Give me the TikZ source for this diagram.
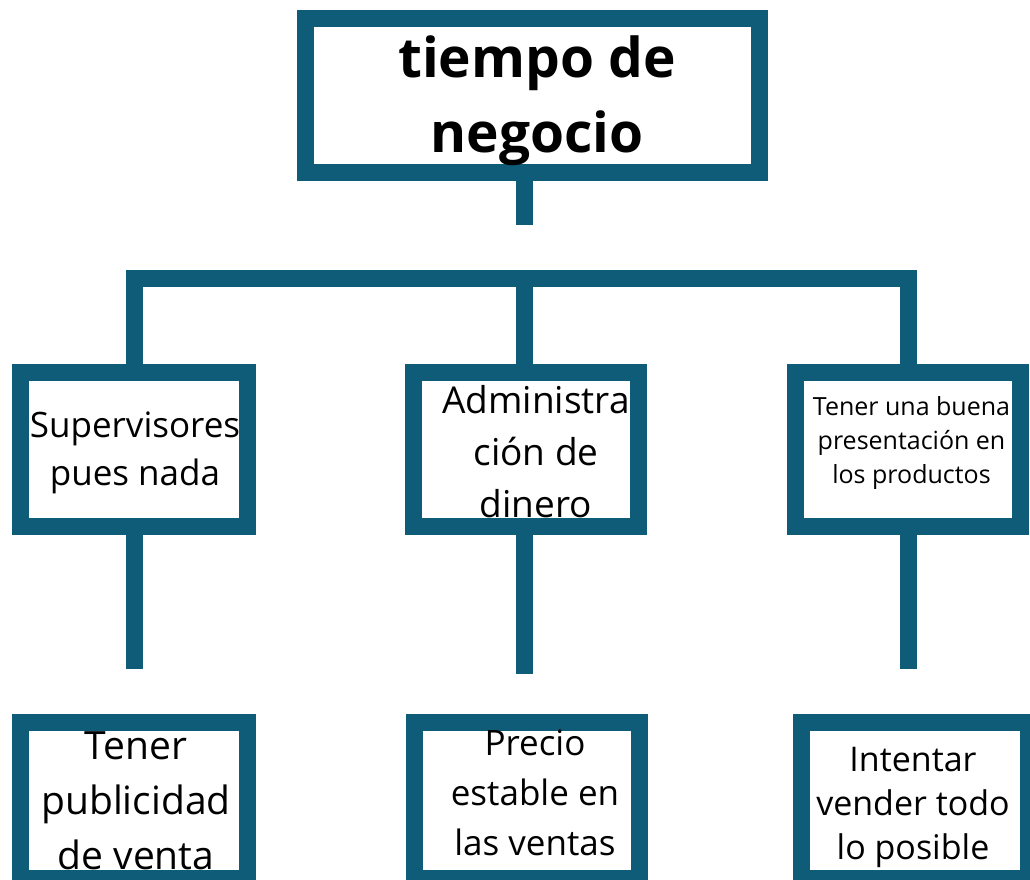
\documentclass[tikz,border=0pt]{standalone}
\usepackage{fontspec}
\setmainfont{Open Sans}
\definecolor{teal1}{RGB}{14,92,120}
\begin{document}
\begin{tikzpicture}[x=1pt,y=-1pt,
  box/.style={draw=teal1,line width=17pt,rectangle,inner sep=0pt,fill=white},
  link/.style={draw=teal1,line width=17pt},
  txt/.style={align=center,inner sep=0pt,text=black}]
\clip (0,0) rectangle (1030,879);
\fill[white] (0,0) rectangle (1030,879);
% boxes
\node[box,minimum width=454pt,minimum height=154pt] (top) at (532,95) {};
\node[box,minimum width=227.5pt,minimum height=154pt] (m1) at (134,449) {};
\node[box,minimum width=225pt,minimum height=154pt] (m2) at (526,449) {};
\node[box,minimum width=225.5pt,minimum height=154pt] (m3) at (908,449) {};
\node[box,minimum width=226.5pt,minimum height=156pt] (b1) at (134,800.5) {};
\node[box,minimum width=225.5pt,minimum height=156pt] (b2) at (527,800.5) {};
\node[box,minimum width=227.5pt,minimum height=156pt] (b3) at (915,800.5) {};
% connectors
\coordinate (stem) at (524,225);
\coordinate (bar) at (524,278);
\coordinate (e1) at (134,669);
\coordinate (e2) at (524,674);
\coordinate (e3) at (908,669);
\draw[link] (top.south -| stem) -- (stem);
\draw[link] (m1.north) |- (m3.north |- bar) -- (m3.north);
\draw[link] (bar) -- (m2.north -| bar);
\draw[link] (m1.south) -- (e1);
\draw[link] (m2.south -| e2) -- (e2);
\draw[link] (m3.south) -- (e3);
% texts
\node[txt,font=\bfseries\fontsize{55}{75}\selectfont] (ttop) at (537,101) {tiempo de\\negocio};
\node[txt,font=\fontsize{35}{48}\selectfont] (tm1) at (135,452.4) {Supervisores\\pues nada};
\node[txt,font=\fontsize{37}{52}\selectfont] (tm2) at (536,451.5) {Administra\\ción de\\dinero};
\node[txt,font=\fontsize{25}{34}\selectfont] (tm3) at (911.5,442.5) {Tener una buena\\presentación en\\los productos};
\node[txt,font=\fontsize{39}{55}\selectfont] (tb1) at (136,801) {Tener\\publicidad\\de venta};
\node[txt,font=\fontsize{35}{50}\selectfont] (tb2) at (535,792.5) {Precio\\estable en\\las ventas};
\node[txt,font=\fontsize{34}{44}\selectfont] (tb3) at (913,807) {Intentar\\vender todo\\lo posible};
\end{tikzpicture}
\end{document}
